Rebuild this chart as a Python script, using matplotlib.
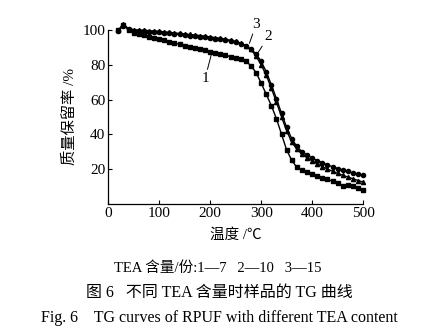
import matplotlib.pyplot as plt

plt.rcParams['font.family'] = ['Liberation Serif', 'Noto Sans CJK SC']
plt.rcParams['axes.unicode_minus'] = False

# 温度 / ℃
temp = [20, 30, 40, 50, 60, 70, 80, 90, 100, 110, 120, 130, 140, 150, 160, 170,
        180, 190, 200, 210, 220, 230, 240, 250, 260, 270, 280, 290, 300, 310, 320,
        330, 340, 350, 360, 370, 380, 390, 400, 410, 420, 430, 440, 450, 460, 470,
        480, 490, 500]

# 质量保留率 / %  (TEA 含量 7 份)
tg1 = [100.0, 103.0, 100.0, 98.3, 97.6, 96.9, 96.2, 95.5, 94.8, 94.1, 93.3, 92.5,
       91.7, 91.0, 90.3, 89.6, 88.9, 88.2, 87.5, 86.8, 86.1, 85.4, 84.7, 84.0, 83.3,
       82.0, 79.5, 75.5, 69.5, 63.0, 56.5, 49.0, 40.0, 31.0, 25.0, 21.0, 19.6, 18.4,
       17.3, 16.2, 15.0, 14.0, 13.0, 12.0, 10.4, 10.7, 10.3, 8.8, 7.8]

# TEA 含量 10 份
tg2 = [99.5, 102.5, 100.3, 99.6, 99.4, 99.2, 99.0, 98.8, 98.6, 98.3, 98.0, 97.7,
       97.4, 97.1, 96.8, 96.5, 96.2, 95.8, 95.4, 95.0, 94.6, 94.1, 93.6, 92.9, 92.0,
       90.8, 89.0, 86.3, 82.0, 76.0, 68.5, 60.5, 52.0, 44.0, 37.5, 33.0, 30.0, 28.0,
       26.3, 24.9, 23.6, 22.4, 21.3, 20.3, 19.4, 18.6, 17.8, 17.1, 16.4]

# TEA 含量 15 份
tg3 = [100.0, 103.2, 100.8, 100.2, 100.0, 99.8, 99.6, 99.4, 99.2, 98.9, 98.6, 98.3,
       98.0, 97.7, 97.4, 97.1, 96.8, 96.4, 96.0, 95.6, 95.2, 94.7, 94.1, 93.4, 92.4,
       91.0, 88.8, 85.0, 80.0, 74.0, 66.5, 58.5, 50.0, 42.0, 35.5, 31.5, 28.8, 26.6,
       24.8, 23.0, 21.4, 20.0, 18.7, 17.5, 16.4, 15.4, 14.4, 13.4, 12.5]

fig = plt.figure(figsize=(4.45, 3.33), dpi=100)
ax = fig.add_axes([0.243, 0.388, 0.573, 0.522])

ax.plot(temp, tg1, color='black', lw=1.0, marker='s', ms=2.8, clip_on=False)
ax.plot(temp, tg2, color='black', lw=1.0, marker='o', ms=3.0, clip_on=False)
ax.plot(temp, tg3, color='black', lw=1.0, marker='^', ms=3.0, clip_on=False)

ax.set_xlim(0, 500)
ax.set_ylim(0, 100)
ax.set_xticks([0, 100, 200, 300, 400, 500])
ax.set_yticks([20, 40, 60, 80, 100])
ax.spines['top'].set_visible(False)
ax.spines['right'].set_visible(False)
ax.spines['left'].set_linewidth(0.9)
ax.spines['bottom'].set_linewidth(0.9)
ax.tick_params(direction='in', length=3, width=0.8, labelsize=11, pad=2)

ax.set_xlabel('温度 /℃', fontsize=10.5, labelpad=6)
ax.set_ylabel('质量保留率 /%', fontsize=11, labelpad=4)

# 曲线编号
line = dict(arrowstyle='-', color='black', lw=0.7, shrinkA=0, shrinkB=0)
ax.annotate('1', xy=(203, 86.6), xytext=(190, 72), fontsize=11,
            ha='center', va='center', arrowprops=line)
ax.annotate('3', xy=(277, 92.3), xytext=(290, 103), fontsize=11,
            ha='center', va='center', arrowprops=line, annotation_clip=False)
ax.annotate('2', xy=(293, 86.6), xytext=(314, 96), fontsize=11,
            ha='center', va='center', arrowprops=line)

fig.text(0.49, 0.195, 'TEA 含量/份:1—7   2—10   3—15', fontsize=10.5,
         ha='center', va='center')
fig.text(0.492, 0.12, '图 6   不同 TEA 含量时样品的 TG 曲线', fontsize=11.5,
         ha='center', va='center')
fig.text(0.494, 0.045, 'Fig. 6    TG curves of RPUF with different TEA content',
         fontsize=11.5, ha='center', va='center')

fig.savefig('out.png', dpi=100)
